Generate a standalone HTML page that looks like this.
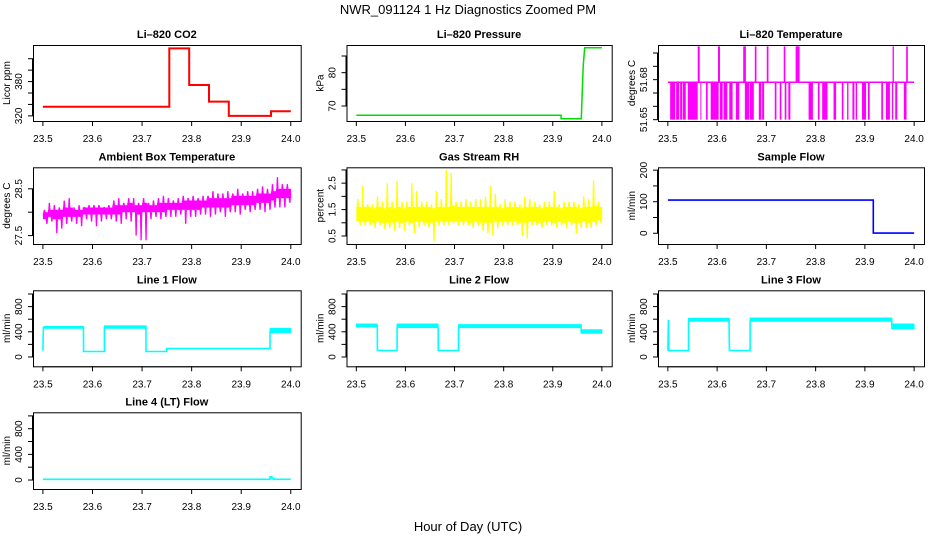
<!DOCTYPE html>
<html><head><meta charset="utf-8"><style>
html,body{margin:0;padding:0;background:#fff;}
svg{display:block;font-family:"Liberation Sans",Arial,sans-serif;}
</style></head><body>
<svg id="c" width="936" height="540" viewBox="0 0 936 540" xmlns="http://www.w3.org/2000/svg">
<rect width="936" height="540" fill="#fff"/>
<text x="468" y="14" font-size="13" text-anchor="middle">NWR_091124  1 Hz Diagnostics Zoomed PM</text>
<text x="468" y="531" font-size="13" text-anchor="middle">Hour of Day (UTC)</text>
</svg>
<script>
const xTicks=[23.5,23.6,23.7,23.8,23.9,24.0];
const xTickLabels=["23.5","23.6","23.7","23.8","23.9","24.0"];
const co2Starts=[23.5,23.755,23.795,23.835,23.875,23.96];
const co2Ends=[23.755,23.795,23.835,23.875,23.96,24.0];
const co2Values=[336,438,374,345,320,328];
const presTimes=[23.5,23.917,23.917,23.958,23.96,23.962,23.965,24.0];
const presValues=[67.2,67.2,66.2,66.2,74,82,87.5,87.5];
const tempBase=51.678, tempHigh=51.705, tempLow=51.65;
const tempDips=[[23.5047,23.5148],[23.5168,23.5229],[23.5249,23.529],[23.5303,23.5364],[23.5404,23.5606],[23.566,23.5674],[23.5775,23.5809],[23.5869,23.6031],[23.6058,23.6112],[23.6132,23.6206],[23.6247,23.6314],[23.6381,23.6449],[23.6563,23.6651],[23.6664,23.6745],[23.6846,23.69],[23.6914,23.6954],[23.717,23.7204],[23.7271,23.7305],[23.7372,23.7406],[23.7446,23.7487],[23.7857,23.7945],[23.8046,23.808],[23.8133,23.8241],[23.8363,23.8416],[23.8531,23.8565],[23.8639,23.8666],[23.8747,23.8787],[23.8814,23.8841],[23.8942,23.9022],[23.9063,23.9097],[23.9333,23.9367],[23.9427,23.9508],[23.9548,23.9575],[23.9616,23.9657],[23.9791,23.9845]];
const tempSpikes=[[23.5606,23.5647],[23.6018,23.6058],[23.653,23.6584],[23.6765,23.6799],[23.7008,23.7042],[23.7352,23.7385],[23.7594,23.7675],[23.9562,23.9589],[23.9838,23.9872]];
const ambHi=[28.05,28.2,28.15,28.1,28.25,28.3,28.1,28.15,28.1,28.15,28.15,28.15,28.1,28.15,28.25,28.3,28.2,28.3,28.3,28.2,28.3,28.2,28.25,28.3,28.35,28.3,28.25,28.3,28.35,28.3,28.35,28.3,28.35,28.35,28.45,28.4,28.4,28.45,28.4,28.5,28.4,28.45,28.45,28.5,28.55,28.5,28.6,28.75,28.6,28.6];
const ambLo=[27.75,27.8,27.55,27.65,27.75,27.8,27.75,27.7,27.85,27.8,27.7,27.8,27.85,27.85,27.8,27.75,27.85,27.8,27.5,27.4,27.4,27.85,27.9,27.85,27.9,27.9,27.9,27.95,27.75,27.9,27.9,27.95,27.95,27.9,27.95,28.0,27.9,28.0,28.0,27.95,28.05,28.0,28.05,28.05,28.0,28.05,28.1,28.1,28.1,28.2];
const ambCoreLo=[27.85,27.9,27.85,27.85,27.9,27.9,27.9,27.9,27.95,27.95,27.95,27.95,27.95,27.95,27.95,27.95,28.0,28.0,28.0,27.95,28.0,28.0,28.0,28.0,28.0,28.05,28.05,28.05,28.05,28.05,28.05,28.05,28.1,28.1,28.1,28.1,28.1,28.1,28.15,28.15,28.15,28.15,28.15,28.2,28.2,28.2,28.25,28.3,28.3,28.3];
const ambCoreHi=[28.0,28.05,28.05,28.05,28.1,28.1,28.05,28.05,28.1,28.1,28.1,28.1,28.1,28.1,28.15,28.15,28.15,28.2,28.15,28.15,28.2,28.15,28.15,28.2,28.2,28.2,28.2,28.2,28.25,28.25,28.25,28.25,28.25,28.3,28.3,28.3,28.3,28.3,28.35,28.35,28.35,28.35,28.35,28.4,28.4,28.4,28.45,28.5,28.5,28.5];
const rhHi=[1.9,2.4,1.7,1.7,2.0,1.8,2.5,1.8,2.6,1.8,1.8,2.5,2.2,1.8,1.8,1.7,2.2,1.9,3.0,2.9,1.8,1.8,1.9,1.8,1.9,1.9,2.0,2.4,2.1,1.7,1.9,1.8,1.8,1.7,2.0,1.9,1.8,1.7,1.8,1.8,2.2,1.7,1.8,1.8,1.8,1.7,2.0,1.9,2.6,1.8];
const rhLo=[0.9,0.9,0.9,0.8,0.9,0.75,0.8,0.7,0.8,0.7,0.9,0.6,0.8,0.9,0.8,0.3,0.9,0.9,0.9,1.0,0.9,0.9,0.9,0.8,0.9,0.7,0.6,0.5,0.8,0.9,0.9,0.9,0.9,0.5,0.4,0.9,0.9,0.8,0.9,0.9,0.8,0.9,0.8,0.9,0.6,0.8,0.8,0.8,0.9,1.0];
const rhCoreLo=[1.05,1.05,1.05,1.0,1.05,1.0,1.0,1.0,1.05,1.0,1.05,1.0,1.05,1.05,1.0,1.0,1.05,1.05,1.05,1.05,1.05,1.05,1.05,1.0,1.05,1.0,1.0,1.0,1.05,1.05,1.05,1.05,1.05,1.0,1.0,1.05,1.05,1.0,1.05,1.05,1.0,1.05,1.0,1.05,1.0,1.0,1.05,1.0,1.05,1.1];
const rhCoreHi=[1.6,1.6,1.6,1.55,1.6,1.55,1.6,1.55,1.6,1.55,1.6,1.6,1.6,1.6,1.6,1.55,1.6,1.6,1.6,1.65,1.6,1.6,1.6,1.6,1.6,1.6,1.6,1.6,1.6,1.55,1.6,1.6,1.6,1.55,1.6,1.6,1.6,1.55,1.6,1.6,1.6,1.55,1.6,1.6,1.6,1.55,1.6,1.6,1.65,1.6];
const sampleStarts=[23.5,23.917], sampleEnds=[23.917,24.0], sampleLo=[102,-2], sampleHi=[108,3];
const l1Starts=[23.5,23.502,23.582,23.624,23.708,23.75,23.958], l1Ends=[23.502,23.582,23.624,23.708,23.75,23.958,24.0];
const l1Lo=[100,450,80,450,80,130,380], l1Hi=[480,490,95,500,95,140,460];
const l2Starts=[23.5,23.543,23.583,23.667,23.708,23.958], l2Ends=[23.543,23.583,23.667,23.708,23.958,24.0];
const l2Lo=[470,100,460,100,460,370], l2Hi=[530,105,530,105,520,440];
const l3Starts=[23.5,23.502,23.542,23.625,23.667,23.955], l3Ends=[23.502,23.542,23.625,23.667,23.955,24.0];
const l3Lo=[100,100,560,100,560,440], l3Hi=[590,105,620,105,625,530];
const l4Starts=[23.5,23.958,23.962,23.966], l4Ends=[23.958,23.962,23.966,24.0];
const l4Lo=[10,40,20,10], l4Hi=[12,60,30,12];

const NS="http://www.w3.org/2000/svg";
const svg=document.getElementById('c');
function mk(tag,attrs,parent){const e=document.createElementNS(NS,tag);for(const k in attrs)e.setAttribute(k,attrs[k]);(parent||svg).appendChild(e);return e;}
const colL=[33,346.5,658], colW=[267.7,265.2,266];
const rowT=[45,167.3,290.3,412.3], rowH=[76,76.7,76,76.7];
function panel(id,col,row,title,ylab,ylim,yt,ylabs){
  const L=colL[col],T=rowT[row],W=colW[col],H=rowH[row];
  const g=mk('g',{});
  
  
  const X=v=>L+(v-23.48)/0.54*W;
  const Y=v=>T+H-(v-ylim[0])/(ylim[1]-ylim[0])*H;
  const t=mk('text',{x:L+W/2,y:T-7,'font-size':11,'font-weight':'bold','text-anchor':'middle'},g);t.textContent=title;
  
  const B=T+H;
  mk('line',{x1:X(23.5),x2:X(24),y1:B+0.5,y2:B+0.5,stroke:'#000'},g);
  xTicks.forEach((v,i)=>{mk('line',{x1:X(v),x2:X(v),y1:B,y2:B+5,stroke:'#000'},g);
    const tx=mk('text',{x:X(v),y:B+21,'font-size':10,'text-anchor':'middle'},g);tx.textContent=xTickLabels[i];
    });
  mk('line',{x1:L-0.5,x2:L-0.5,y1:Y(yt[0]),y2:Y(yt[yt.length-1]),stroke:'#000'},g);
  yt.forEach((v,i)=>{mk('line',{x1:L-5,x2:L,y1:Y(v),y2:Y(v),stroke:'#000'},g);
    if(ylabs[i]){const tx=mk('text',{x:0,y:0,'font-size':10,'text-anchor':'middle',transform:`translate(${L-11},${Y(v)}) rotate(-90)`},g);tx.textContent=ylabs[i];
    }});
  const yl=mk('text',{x:0,y:0,'font-size':10,'text-anchor':'middle',transform:`translate(${L-23},${T+H/2}) rotate(-90)`},g);yl.textContent=ylab;
  
  const clip=mk('clipPath',{id:'cp'+id},g);mk('rect',{x:L,y:T,width:W,height:H},clip);
  const d=mk('g',{'clip-path':`url(#cp${id})`},g);
  mk('rect',{x:L+0.5,y:T+0.5,width:W,height:H,fill:'none',stroke:'#000'},g);
  return {X,Y,d};
}
function poly(p,pts,color,w,name){const e=mk('polyline',{points:pts.map(q=>q[0].toFixed(1)+','+q[1].toFixed(1)).join(' '),fill:'none',stroke:color,'stroke-width':w,'stroke-linejoin':'miter'},p.d);
  return e;}
function segLine(p,starts,ends,lo,hi,color,name){
  const pts=[];
  for(let i=0;i<starts.length;i++){
    const x0=p.X(starts[i]),x1=p.X(ends[i]);
    if(Math.abs(p.Y(lo[i])-p.Y(hi[i]))<2){pts.push([x0,p.Y((lo[i]+hi[i])/2)],[x1,p.Y((lo[i]+hi[i])/2)]);}
    else{let k=0;for(let x=x0;x<=x1;x+=0.5,k++){pts.push([x,p.Y(k%2?hi[i]:lo[i])]);}}
  }
  poly(p,pts,color,1.6,name);
}
function binBand(p,lo,hi,clo,chi,color,name){
  const n=lo.length;
  for(let i=0;i<n;i++){const t0=23.5+i*0.5/n,t1=t0+0.5/n;const x0=p.X(t0),x1=p.X(t1);
    const r=mk('rect',{x:x0,y:p.Y(chi[i]),width:x1-x0+0.3,height:p.Y(clo[i])-p.Y(chi[i]),fill:color},p.d);
    
    const xm=(x0+x1)/2;
    const sp=mk('polyline',{points:`${x0+1},${p.Y(chi[i])} ${x0+1.5},${p.Y(hi[i])} ${x0+2},${p.Y(chi[i])} ${xm+1},${p.Y(clo[i])} ${xm+1.5},${p.Y(lo[i])} ${xm+2},${p.Y(clo[i])}`,fill:'none',stroke:color,'stroke-width':1.3},p.d);
    }
}
let p=panel('co2',0,0,'Li\u2013820 CO2','Licor ppm',[311,444],[320,340,360,380,400,420],['320','','','380','','']);
{const pts=[];for(let i=0;i<co2Starts.length;i++){pts.push([p.X(co2Starts[i]),p.Y(co2Values[i])],[p.X(co2Ends[i]),p.Y(co2Values[i])]);}poly(p,pts,'#ff0000',2,'co2-line');}
p=panel('pressure',1,0,'Li\u2013820 Pressure','kPa',[65.5,88.3],[70,75,80,85],['70','','80','']);
poly(p,presTimes.map((t,i)=>[p.X(t),p.Y(presValues[i])]),'#00dd00',1.5,'pressure-line');
p=panel('temp',2,0,'Li\u2013820 Temperature','degrees C',[51.649,51.706],[51.65,51.66,51.67,51.68,51.69,51.70],['51.65','','','51.68','','']);
poly(p,[[p.X(23.5),p.Y(tempBase)],[p.X(24.0),p.Y(tempBase)]],'#ff00ff',1.5,'temp-baseline');
tempDips.forEach(iv=>{const r=mk('rect',{x:p.X(iv[0]),y:p.Y(tempBase),width:Math.max(1,p.X(iv[1])-p.X(iv[0])),height:p.Y(tempLow)-p.Y(tempBase),fill:'#ff00ff'},p.d);
  });
tempSpikes.forEach(iv=>{const r=mk('rect',{x:p.X(iv[0]),y:p.Y(tempHigh),width:Math.max(1,p.X(iv[1])-p.X(iv[0])),height:p.Y(tempBase)-p.Y(tempHigh),fill:'#ff00ff'},p.d);
  });
p=panel('ambient',0,1,'Ambient Box Temperature','degrees C',[27.32,28.96],[27.5,28.0,28.5],['27.5','','28.5']);
binBand(p,ambLo,ambHi,ambCoreLo,ambCoreHi,'#ff00ff','ambient');
p=panel('rh',1,1,'Gas Stream RH','percent',[0.197,3.10],[0.5,1.0,1.5,2.0,2.5,3.0],['0.5','','1.5','','2.5','']);
binBand(p,rhLo,rhHi,rhCoreLo,rhCoreHi,'#ffff00','rh');
p=panel('sample',2,1,'Sample Flow','ml/min',[-34,209],[0,50,100,150,200],['0','','100','','200']);
segLine(p,sampleStarts,sampleEnds,sampleLo,sampleHi,'#0000ff','sample-flow-line');
const ft=[0,200,400,600,800,1000], fl=['0','','400','','800',''];
p=panel('line1',0,2,'Line 1 Flow','ml/min',[-148,1059],ft,fl);
segLine(p,l1Starts,l1Ends,l1Lo,l1Hi,'#00ffff','line1-flow-line');
p=panel('line2',1,2,'Line 2 Flow','ml/min',[-148,1059],ft,fl);
segLine(p,l2Starts,l2Ends,l2Lo,l2Hi,'#00ffff','line2-flow-line');
p=panel('line3',2,2,'Line 3 Flow','ml/min',[-148,1059],ft,fl);
segLine(p,l3Starts,l3Ends,l3Lo,l3Hi,'#00ffff','line3-flow-line');
p=panel('line4',0,3,'Line 4 (LT) Flow','ml/min',[-140,1056],ft,fl);
segLine(p,l4Starts,l4Ends,l4Lo,l4Hi,'#00ffff','line4-flow-line');
</script>
</body></html>
